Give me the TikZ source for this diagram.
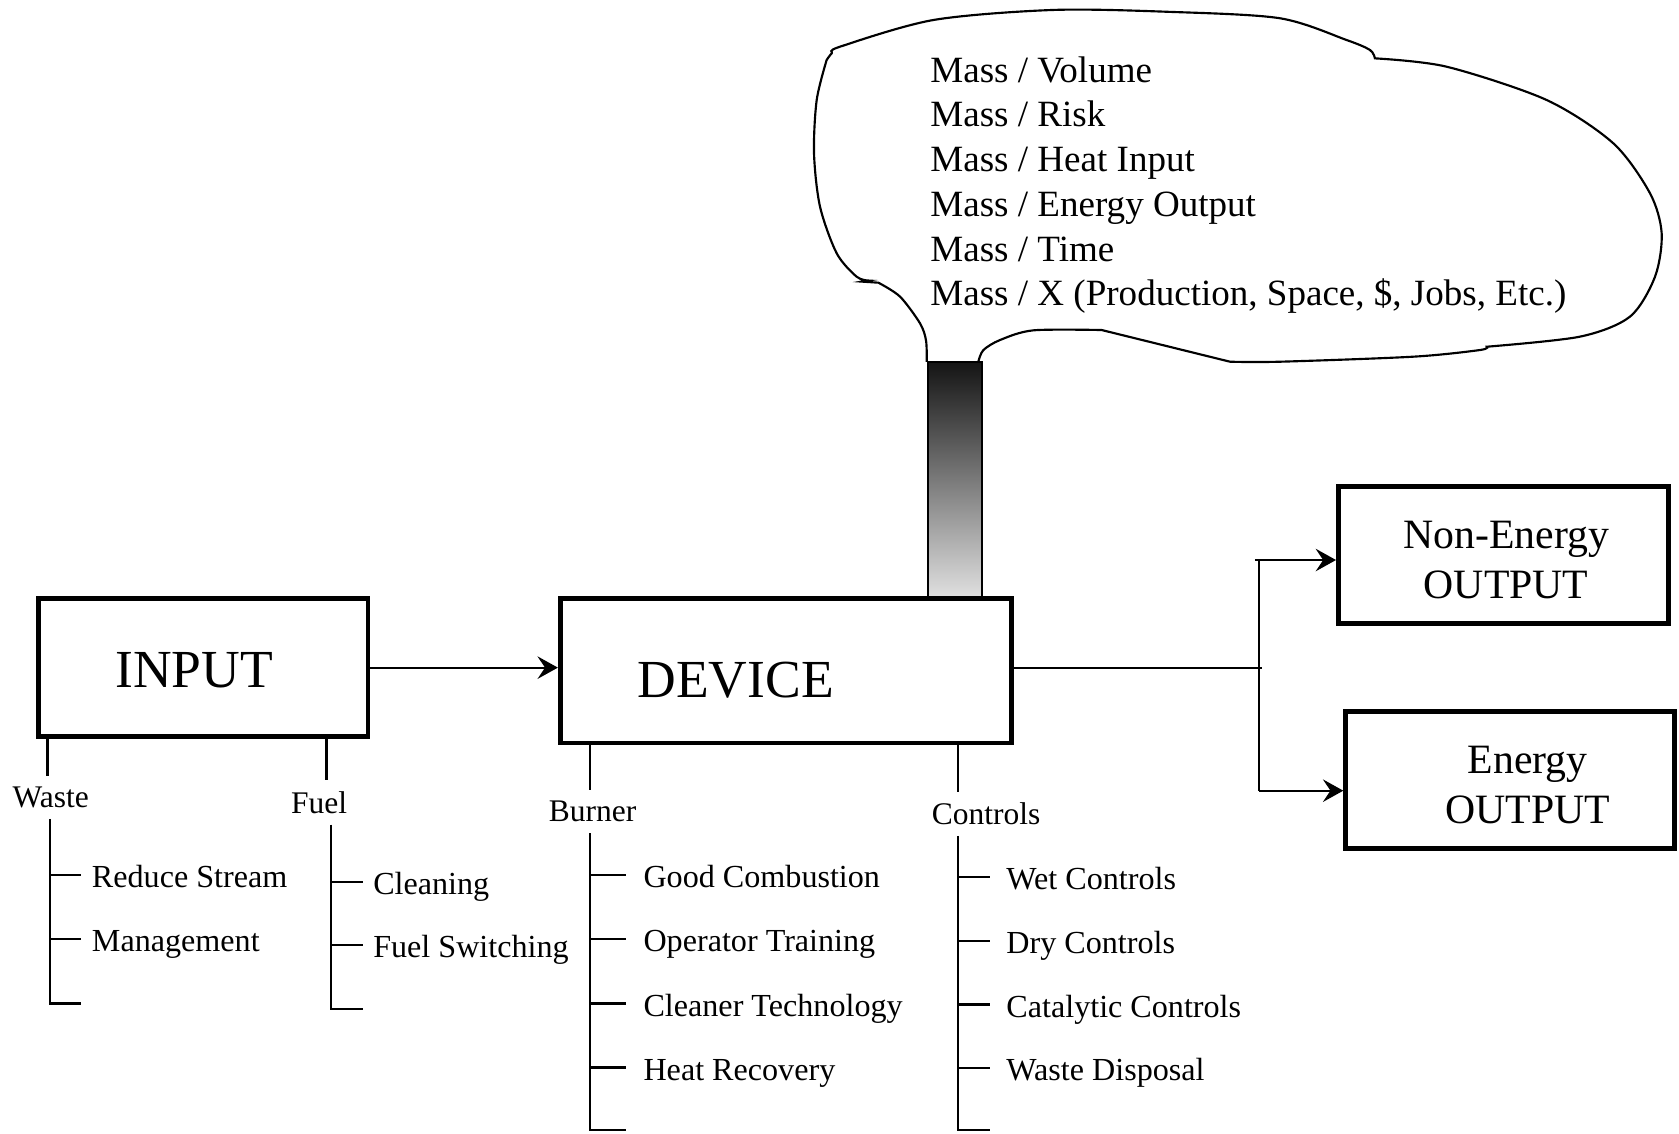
\documentclass[tikz,border=0pt]{standalone}
\usepackage{fontspec}
\setmainfont{Liberation Serif}
\usepackage{xcolor}
\usepackage{tikz}
\usetikzlibrary{arrows.meta}
\definecolor{hautcheminee}{HTML}{141414}
\definecolor{bascheminee}{HTML}{E0E0E0}
\tikzstyle{box} = [rectangle,
minimum width=153.8pt,
minimum height=64.3pt,
line width=2.2pt,
draw=black]
\tikzstyle{arrow} = [line width=1pt,-{Stealth[length=9.5pt,width=10.5pt,inset=3.5pt]}]
\tikzstyle{tree} = [line width=1.1pt]
\tikzstyle{title} = [font=\fontsize{25pt}{30pt}\selectfont, anchor=base]
\tikzstyle{output} = [font=\fontsize{19.5pt}{23.4pt}\selectfont, align=center, anchor=base]
\tikzstyle{branch} = [font=\fontsize{14.7pt}{17pt}\selectfont, anchor=base, inner sep=5pt]
\tikzstyle{item} = [font=\fontsize{15pt}{18pt}\selectfont, anchor=west,
text height=12pt, text depth=0pt, inner ysep=0pt, inner xsep=4.75pt]

\begin{document}
\begin{tikzpicture}[x=0.5pt, y=-0.5pt]

% Fond blanc
\fill[white] (0,0) rectangle (1568,1059);
\useasboundingbox (0,0) rectangle (1568,1059);

% Cheminée (dégradé)
\node[draw, line width=1pt, top color=hautcheminee, bottom color=bascheminee,
  minimum width=25.3pt, minimum height=110pt, inner sep=0pt, anchor=south] (chimney) at (891.7,559) {};

% Nuage au-dessus de la cheminée
\draw[line width=1pt]
  plot[smooth] coordinates {(865.5,338) (864.8,318) (859.2,302) (840.5,277) (820.3,264)}
  -- (805,263)
  -- plot[smooth] coordinates {(811,262) (800,258.4) (781.4,236.6) (765.8,193) (760.2,143.2) (762.7,93.4) (772,56)}
  -- plot[smooth] coordinates {(772,56) (776.7,49.8) (784.5,43.6) (871.6,18.7) (983.6,9.3) (1090,11) (1195,17) (1257.6,37.4) (1279.4,46.7) (1284,54.5)}
  -- plot[smooth] coordinates {(1284,54.5) (1351,62.3) (1444.4,93.4) (1506.6,133.8) (1540.9,180.5) (1551.8,217.9) (1545.6,258.4) (1522.2,295.7) (1475.5,314.4) (1388.4,323.8)}
  -- plot[smooth] coordinates {(1388.4,323.8) (1382,326.9) (1319.9,333.1) (1195.4,337.8) (1148.7,337.8)}
  -- (1028.8,308.2)
  -- plot[smooth] coordinates {(1028.8,308.2) (965,308.5) (934,317.5) (918.3,327) (913.6,338)};

% Ratios dans le nuage (base = dernière ligne)
\node[font=\fontsize{17.3pt}{20.9pt}\selectfont, align=left, anchor=base west, inner sep=0pt] (ratios) at (868.5,285.7)
  {Mass / Volume\\Mass / Risk\\Mass / Heat Input\\Mass / Energy Output\\Mass / Time\\Mass / X (Production, Space, \$, Jobs, Etc.)};

% Boîtes principales
\node[box] (input) at (190,623.5) {};
\node[box, minimum width=210.8pt, minimum height=67.3pt] (device) at (734,626.5) {};
\node[box, minimum width=154pt, minimum height=64.1pt] (nonenergy) at (1403.9,518.3) {};
\node[box, minimum width=153.5pt, minimum height=64.2pt] (energy) at (1410.2,728.4) {};

% Textes des boîtes
\node[title] (inputtext) at (181.4,641.6) {INPUT};
\node[title] (devicetext) at (687,651) {DEVICE};
\node[output] (nonenergytext) at (1406.5,558.8) {Non-Energy\\OUTPUT};
\node[output] (energytext) at (1426.8,768.8) {Energy\\OUTPUT};

% Flèches
\draw[arrow] (input.east) -- (input.east -| device.west);
\coordinate (split) at (1178.8,624);
\coordinate (forktop) at (1176,523);
\coordinate (forkbottom) at (1176,738.4);
\draw[line width=1pt] (device.east |- split) -- (split);
\draw[line width=1pt] (forktop) -- (forkbottom);
\draw[arrow] ([xshift=-2pt]forktop) -- (forktop -| nonenergy.west);
\draw[arrow] (forkbottom) -- (forkbottom -| energy.west);

% Branche Waste
\node[branch] (waste) at (47.4,754) {Waste};
\draw[tree] (input.south -| 44.5,0) -- (waste.north -| 44.5,0);
\coordinate (wasteend) at (76,937);
\draw[tree] (waste.south -| 46.7,0) |- (wasteend);
\foreach \txt [count=\i] in {Reduce Stream, Management}{
  \node[item] (waste-\i) at (76,757+60*\i) {\txt};
  \draw[tree] (waste-\i.west -| 46.7,0) -- (waste-\i.west);
}

% Branche Fuel
\node[branch] (fuel) at (298,759.5) {Fuel};
\draw[tree] (input.south -| 305,0) -- (fuel.north -| 305,0);
\coordinate (fuelend) at (338.7,942);
\draw[tree] (fuel.south -| 309,0) |- (fuelend);
\foreach \txt [count=\i] in {Cleaning, Fuel Switching}{
  \node[item] (fuel-\i) at (338.7,764.3+59.1*\i) {\txt};
  \draw[tree] (fuel-\i.west -| 309,0) -- (fuel-\i.west);
}

% Branche Burner
\node[branch] (burner) at (553.5,767.6) {Burner};
\draw[tree] (device.south -| 551,0) -- (burner.north -| 551,0);
\coordinate (burnerend) at (585,1055);
\draw[tree] (burner.south -| 551,0) |- (burnerend);
\foreach \txt [count=\i] in {Good Combustion, Operator Training, Cleaner Technology, Heat Recovery}{
  \node[item, inner xsep=7.8pt] (burner-\i) at (585,757+60*\i) {\txt};
  \draw[tree] (burner-\i.west -| 551,0) -- (burner-\i.west);
}

% Branche Controls
\node[branch] (controls) at (921,770) {Controls};
\draw[tree] (device.south -| 894.7,0) -- (controls.north -| 894.7,0);
\coordinate (controlsend) at (924.5,1055);
\draw[tree] (controls.south -| 894.7,0) |- (controlsend);
\foreach \txt [count=\i] in {Wet Controls, Dry Controls, Catalytic Controls, Waste Disposal}{
  \node[item, inner xsep=7.5pt] (controls-\i) at (924.5,759.5+59.5*\i) {\txt};
  \draw[tree] (controls-\i.west -| 894.7,0) -- (controls-\i.west);
}

\end{tikzpicture}
\end{document}
